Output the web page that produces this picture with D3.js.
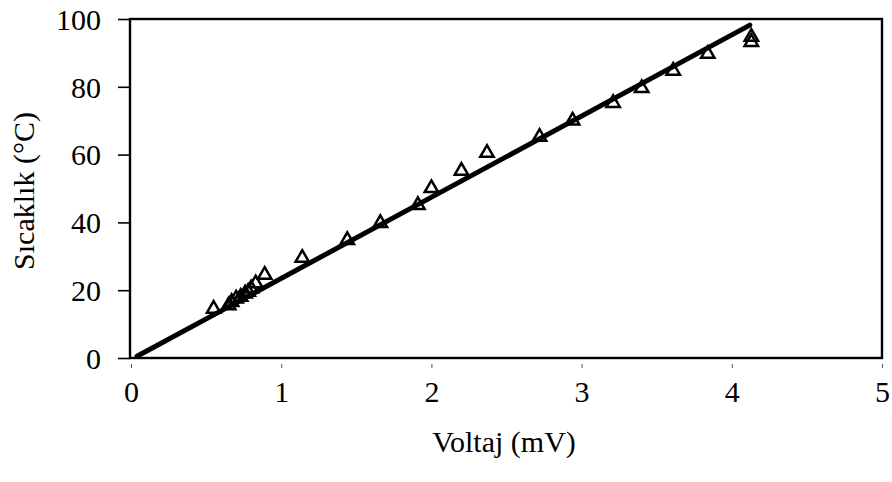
<!DOCTYPE html>
<html>
<head>
<meta charset="utf-8">
<script src="https://cdn.jsdelivr.net/npm/d3@7"></script>
<style>
  html, body { margin: 0; padding: 0; background: #fff; }
  svg { display: block; }
  text { font-family: "Liberation Serif", "Times New Roman", serif; fill: #000; }
</style>
</head>
<body>
<svg id="chart" width="892" height="482"></svg>
<script>
// Measured voltage (mV) and temperature (°C) pairs
const voltage = [0.55, 0.65, 0.67, 0.70, 0.73, 0.76, 0.78, 0.80, 0.83, 0.89,
                 1.14, 1.44, 1.66, 1.91, 2.00, 2.20, 2.37, 2.72, 2.94,
                 3.21, 3.40, 3.61, 3.84, 4.13, 4.13];
const temperature = [14.5, 15.5, 16.5, 17.5, 18, 19, 19.5, 20.5, 22, 24.5,
                     29.5, 34.8, 39.8, 45.1, 50.1, 55.2, 60.5, 65.2, 70,
                     75.2, 79.6, 84.7, 89.7, 93.2, 94.7];

// Calibration line end points
const fitX = [0.04, 4.12];
const fitY = [0.5, 98.2];

const xTicks = [0, 1, 2, 3, 4, 5];
const yTicks = [0, 20, 40, 60, 80, 100];

const svg = d3.select("#chart");
const plot = { left: 130, right: 882, top: 19, bottom: 358 };

const x = d3.scaleLinear().domain([0, 5]).range([plot.left + 1, plot.right]);
const y = d3.scaleLinear().domain([0, 100]).range([plot.bottom, plot.top]);

// Plot frame
svg.append("rect")
  .attr("x", plot.left).attr("y", plot.top)
  .attr("width", plot.right - plot.left).attr("height", plot.bottom - plot.top)
  .attr("fill", "none").attr("stroke", "#000").attr("stroke-width", 2.4);

// Y axis: ticks outside on the left
const yAxis = svg.append("g")
  .attr("transform", `translate(${plot.left},0)`)
  .call(d3.axisLeft(y).tickValues(yTicks).tickSize(12).tickPadding(17).tickFormat(d3.format("d")));
yAxis.select(".domain").remove();
yAxis.selectAll(".tick line").attr("stroke", "#000").attr("stroke-width", 1.6);
yAxis.selectAll(".tick text")
  .style("font-family", "Liberation Serif, serif")
  .style("font-size", "30px")
  .attr("dy", "0.34em");

// X axis: small marks below the frame
const xAxis = svg.append("g")
  .attr("transform", `translate(0,${plot.bottom})`)
  .call(d3.axisBottom(x).tickValues(xTicks).tickSize(0).tickPadding(23).tickFormat(d3.format("d")));
xAxis.select(".domain").remove();
xAxis.selectAll(".tick")
  .append("line")
  .attr("y1", 6).attr("y2", 10)
  .attr("stroke", "#555").attr("stroke-width", 1);
xAxis.selectAll(".tick text")
  .style("font-family", "Liberation Serif, serif")
  .style("font-size", "30px")
  .attr("dy", "0.71em");

// Fit line
svg.append("line")
  .attr("x1", x(fitX[0])).attr("y1", y(fitY[0]))
  .attr("x2", x(fitX[1])).attr("y2", y(fitY[1]))
  .attr("stroke", "#000").attr("stroke-width", 5)
  .attr("stroke-linecap", "round");

// Open triangle markers
const tri = d3.symbol().type(d3.symbolTriangle).size(78);
svg.append("g")
  .selectAll("path")
  .data(d3.range(voltage.length))
  .join("path")
  .attr("d", tri)
  .attr("transform", i => `translate(${x(voltage[i])},${y(temperature[i])})`)
  .attr("fill", "none")
  .attr("stroke", "#000")
  .attr("stroke-width", 2.5);

// Axis titles
svg.append("text")
  .attr("x", 504).attr("y", 452)
  .attr("text-anchor", "middle")
  .style("font-size", "30px")
  .text("Voltaj (mV)");

svg.append("text")
  .attr("transform", "translate(34,191) rotate(-90)")
  .attr("text-anchor", "middle")
  .style("font-size", "30px")
  .text("Sıcaklık (°C)");
</script>
</body>
</html>
